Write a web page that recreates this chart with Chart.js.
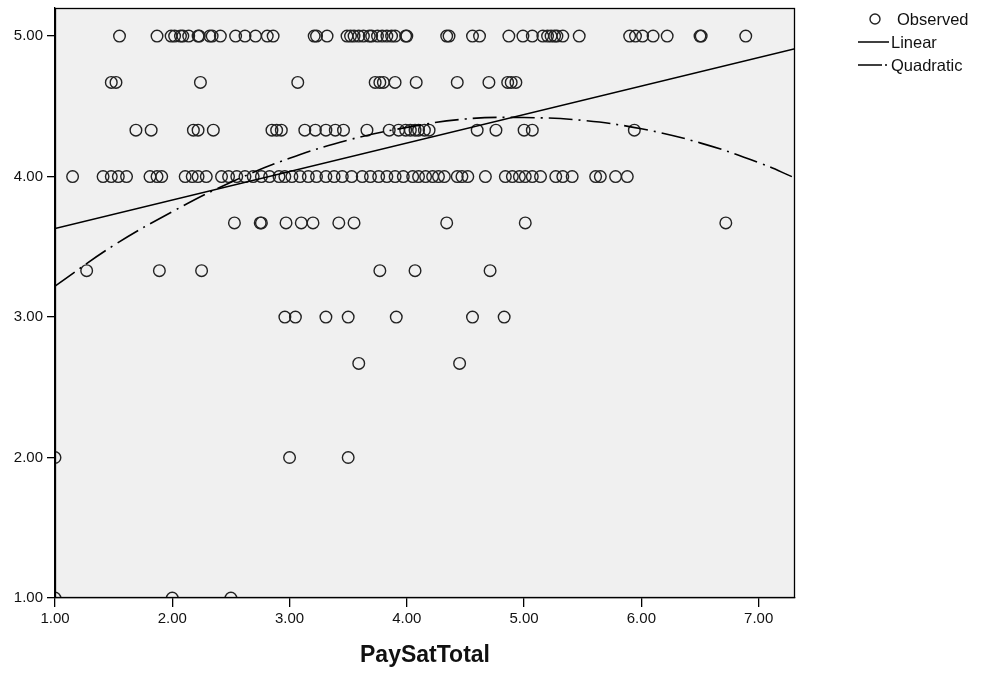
<!DOCTYPE html>
<html><head><meta charset="utf-8">
<script src="https://cdn.jsdelivr.net/npm/chart.js@4/dist/chart.umd.min.js"></script>
<style>html,body{margin:0;padding:0;background:#fff}#wrap{width:982px;height:680px}</style>
</head><body><div id="wrap"><canvas id="c" width="982" height="680"></canvas></div>
<script>
// ---- data ----
const xTitle = 'PaySatTotal';
const seriesNames = ['Observed', 'Linear', 'Quadratic'];
const xTickValues = [1, 2, 3, 4, 5, 6, 7];
const yTickValues = [1, 2, 3, 4, 5];
const xRange = [1.0, 7.31];
const yRange = [1.0, 5.2];

// observed points, one x-list per y level
const rowLevels = [5.00, 4.67, 4.33, 4.00, 3.67, 3.33, 3.00, 2.67, 2.00, 1.00];
const row500 = [1.55,1.87,1.99,2.02,2.07,2.09,2.14,2.22,2.23,2.32,2.34,2.41,2.54,2.62,2.71,2.81,2.86,3.21,3.23,3.32,3.49,3.52,3.55,3.59,3.63,3.68,3.70,3.75,3.79,3.83,3.87,3.90,3.99,4.00,4.34,4.36,4.56,4.62,4.87,4.99,5.07,5.16,5.20,5.23,5.26,5.28,5.33,5.47,5.90,5.95,6.01,6.10,6.22,6.50,6.51,6.89];
const row467 = [1.48,1.52,2.24,3.07,3.73,3.77,3.80,3.90,4.08,4.43,4.70,4.86,4.89,4.93];
const row433 = [1.69,1.82,2.18,2.22,2.35,2.85,2.89,2.93,3.13,3.22,3.31,3.39,3.46,3.66,3.85,3.93,3.99,4.03,4.07,4.10,4.15,4.19,4.60,4.76,5.00,5.07,5.94];
const row400 = [1.15,1.41,1.48,1.54,1.61,1.81,1.87,1.91,2.11,2.17,2.22,2.29,2.42,2.48,2.55,2.62,2.69,2.76,2.83,2.91,2.96,3.02,3.09,3.16,3.23,3.31,3.38,3.45,3.53,3.62,3.69,3.76,3.83,3.90,3.97,4.05,4.10,4.16,4.22,4.27,4.32,4.43,4.47,4.52,4.67,4.84,4.90,4.96,5.01,5.07,5.14,5.27,5.33,5.41,5.61,5.65,5.78,5.88];
const row367 = [2.53,2.75,2.76,2.97,3.10,3.20,3.42,3.55,4.34,5.01,6.72];
const row333 = [1.27,1.89,2.25,3.77,4.07,4.71];
const row300 = [2.96,3.05,3.31,3.50,3.91,4.56,4.83];
const row267 = [3.59,4.45];
const row200 = [1.00,3.00,3.50];
const row100 = [1.00,2.00,2.50];
const rowsX = [row500,row467,row433,row400,row367,row333,row300,row267,row200,row100];

// fitted lines
const linearX = [1.00, 7.31];
const linearY = [3.63, 4.91];
const quadX = [1.0,1.5,2.0,2.5,3.0,3.5,4.0,4.5,5.0,5.5,6.0,6.5,7.0,7.31];
const quadY = [3.22,3.51,3.75,3.96,4.13,4.26,4.35,4.41,4.42,4.40,4.34,4.24,4.10,3.99];

// ---- build chart ----
const observed = [];
rowsX.forEach((xs, i) => xs.forEach(x => observed.push({x: x, y: rowLevels[i]})));
const zip = (xs, ys) => xs.map((x, i) => ({x: x, y: ys[i]}));

const FONT = 'Liberation Sans, Arial, sans-serif';
const DASH = [24, 6, 2, 6];

const framePlugin = {
  id: 'frame',
  beforeDatasetsDraw(chart) {
    const {ctx, chartArea: a} = chart;
    ctx.save();
    ctx.fillStyle = '#f0f0f0';
    ctx.fillRect(a.left, a.top, a.right - a.left, a.bottom - a.top);
    ctx.restore();
  },
  afterDraw(chart) {
    const {ctx, chartArea: a} = chart;
    ctx.save();
    ctx.strokeStyle = '#000';
    ctx.lineWidth = 1.3;
    ctx.strokeRect(a.left + 0.5, a.top + 0.5, a.right - a.left - 1, a.bottom - a.top - 1);
    // legend
    const ds = chart.data.datasets;
    const lx = a.right + 63, ly = 19, gap = 23;
    ctx.font = '16.5px ' + FONT;
    ctx.fillStyle = '#111';
    ctx.textBaseline = 'middle';
    ctx.textAlign = 'left';
    // observed
    ctx.beginPath();
    ctx.strokeStyle = '#222'; ctx.lineWidth = 1.4;
    ctx.arc(lx + 17, ly, 5, 0, Math.PI * 2); ctx.stroke();
    ctx.fillText(ds[0].label, lx + 39, ly + 1);
    // linear
    ctx.strokeStyle = '#000'; ctx.lineWidth = 1.5;
    ctx.beginPath(); ctx.moveTo(lx, ly + gap); ctx.lineTo(lx + 31, ly + gap); ctx.stroke();
    ctx.fillText(ds[1].label, lx + 33, ly + gap + 1);
    // quadratic
    ctx.setLineDash([24, 3, 2, 3]);
    ctx.beginPath(); ctx.moveTo(lx, ly + 2 * gap); ctx.lineTo(lx + 31, ly + 2 * gap); ctx.stroke();
    ctx.setLineDash([]);
    ctx.fillText(ds[2].label, lx + 33, ly + 2 * gap + 1);
    ctx.restore();
  }
};

new Chart(document.getElementById('c'), {
  type: 'scatter',
  data: {
    datasets: [
      { label: seriesNames[0], data: observed, pointRadius: 5.8, pointHoverRadius: 5.8,
        borderColor: '#222', borderWidth: 1.4, backgroundColor: 'rgba(0,0,0,0)', showLine: false, order: 3 },
      { label: seriesNames[1], data: zip(linearX, linearY), showLine: true, pointRadius: 0,
        borderColor: '#000', borderWidth: 1.6, fill: false, order: 1 },
      { label: seriesNames[2], data: zip(quadX, quadY), showLine: true, pointRadius: 0, tension: 0.4,
        borderColor: '#000', borderWidth: 1.6, borderDash: DASH, fill: false, order: 2 }
    ]
  },
  options: {
    responsive: false, animation: false, devicePixelRatio: 1,
    layout: { padding: { left: 0, right: 187, top: 8, bottom: 0 } },
    plugins: { legend: { display: false }, tooltip: { enabled: false } },
    scales: {
      x: {
        type: 'linear', min: xRange[0], max: xRange[1],
        afterBuildTicks: s => { s.ticks = xTickValues.map(v => ({value: v})); },
        afterFit: s => { s.height = 82; s.paddingLeft = 0; s.paddingRight = 0; },
        grid: { display: true, drawOnChartArea: false, drawTicks: true, tickLength: 9, color: '#000', lineWidth: 1.3 },
        border: { display: true, color: '#000', width: 1.3 },
        ticks: { callback: v => Number(v).toFixed(2), font: { family: FONT, size: 15 }, color: '#111', padding: 3, maxRotation: 0 },
        title: { display: true, text: xTitle, font: { family: FONT, size: 23, weight: 'bold' }, color: '#111', padding: { top: 0, bottom: 11 } }
      },
      y: {
        type: 'linear', min: yRange[0], max: yRange[1],
        afterBuildTicks: s => { s.ticks = yTickValues.map(v => ({value: v})); },
        afterFit: s => { s.width = 55; s.paddingTop = 0; s.paddingBottom = 0; },
        grid: { display: true, drawOnChartArea: false, drawTicks: true, tickLength: 8, color: '#000', lineWidth: 1.3 },
        border: { display: true, color: '#000', width: 1.3 },
        ticks: { callback: v => Number(v).toFixed(2), font: { family: FONT, size: 15 }, color: '#111', padding: 4 }
      }
    }
  },
  plugins: [framePlugin]
});
</script></body></html>
